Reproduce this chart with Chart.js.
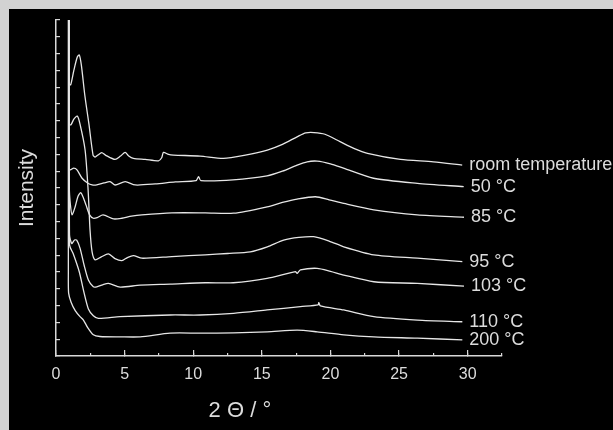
<!DOCTYPE html>
<html>
<head>
<meta charset="utf-8">
<script src="https://cdn.jsdelivr.net/npm/chart.js@4"></script>
<style>
  html, body { margin: 0; padding: 0; background: #d2d2d2; }
  #moldura { position: absolute; left: 9px; top: 9px; width: 604px; height: 421px; background: #000; }
</style>
</head>
<body>
<div id="moldura"><canvas id="meuGrafico" width="604" height="421"></canvas></div>
<script>
// Curvas de difração: pares [2θ, intensidade]
var tempAmbiente = [[0.93,10.5],[0.96,8.1],[1.07,8.07],[1.3,8.5],[1.55,8.9],[1.7,8.96],[1.85,8.65],[2.1,7.76],[2.4,6.9],[2.7,5.98],[2.85,5.92],[3.05,5.98],[3.33,6.05],[3.6,5.98],[4.3,5.85],[4.7,5.95],[5.04,6.06],[5.3,5.95],[5.64,5.88],[6.5,5.85],[7.47,5.81],[7.7,5.9],[7.83,6.06],[8.2,6.0],[8.56,5.98],[10.5,5.95],[12.2,5.88],[13.8,5.98],[15.4,6.13],[16.5,6.3],[17.6,6.53],[18.2,6.64],[18.8,6.65],[19.6,6.6],[20.7,6.38],[21.7,6.18],[22.7,6.03],[25.1,5.85],[27.5,5.78],[29.6,5.68]];
var temp50 = [[0.93,10.5],[0.95,5.6],[1.04,5.54],[1.29,5.59],[1.53,5.54],[1.9,5.29],[2.3,5.15],[2.63,5.09],[2.97,5.09],[3.5,5.15],[3.94,5.19],[4.31,5.09],[5.04,5.19],[5.77,5.09],[7.23,5.12],[8.69,5.18],[10.2,5.22],[10.39,5.34],[10.55,5.22],[12.9,5.24],[15.38,5.36],[16.5,5.5],[17.57,5.68],[18.3,5.78],[19.03,5.8],[20.0,5.72],[20.95,5.59],[23.14,5.29],[26.33,5.14],[29.71,5.04]];
var temp85 = [[0.93,10.5],[0.97,5.0],[1.05,4.5],[1.17,4.2],[1.4,4.45],[1.6,4.75],[1.8,4.86],[2.0,4.7],[2.19,4.49],[2.45,4.2],[2.72,4.1],[3.0,4.12],[3.43,4.2],[4.2,4.08],[4.8,4.1],[5.5,4.16],[6.26,4.2],[8.45,4.26],[10.88,4.26],[12.94,4.25],[15.38,4.44],[16.5,4.57],[17.57,4.67],[18.9,4.74],[19.9,4.65],[20.97,4.54],[23.16,4.35],[26.33,4.2],[29.73,4.13]];
var temp95 = [[0.93,10.5],[0.96,6.9],[1.09,6.88],[1.3,7.05],[1.55,7.14],[1.75,6.9],[2.12,6.13],[2.34,4.94],[2.48,3.75],[2.63,3.1],[2.85,2.86],[3.3,2.95],[3.82,3.04],[4.3,2.9],[4.8,2.84],[5.2,2.93],[5.64,2.99],[6.26,2.91],[8.45,2.96],[10.88,3.01],[12.5,3.05],[14.16,3.1],[15.4,3.25],[16.59,3.45],[17.7,3.53],[18.78,3.55],[19.9,3.42],[20.97,3.25],[23.16,3.01],[26.33,2.91],[29.61,2.81]];
var temp103 = [[0.93,10.5],[0.98,3.6],[1.15,3.35],[1.35,3.45],[1.51,3.45],[1.75,3.21],[2.05,2.7],[2.36,2.26],[2.72,2.06],[2.97,2.06],[3.4,2.12],[3.82,2.16],[4.67,2.05],[6.13,2.11],[8.32,2.14],[10.88,2.18],[12.92,2.18],[15.38,2.31],[17.45,2.51],[17.57,2.46],[17.81,2.56],[19.03,2.61],[20.0,2.52],[20.97,2.41],[23.16,2.21],[26.33,2.16],[29.73,2.08]];
var temp110 = [[0.93,10.5],[0.99,3.3],[1.25,3.05],[1.7,2.5],[2.0,1.96],[2.36,1.4],[2.72,1.2],[3.09,1.12],[4.67,1.17],[8.32,1.22],[10.51,1.22],[12.94,1.27],[15.38,1.37],[17.81,1.47],[19.1,1.52],[19.15,1.59],[19.27,1.49],[20.97,1.37],[23.16,1.17],[26.33,1.07],[29.61,1.02]];
var temp200 = [[0.9,10.5],[0.9,2.5],[0.92,1.87],[1.1,1.6],[1.4,1.35],[1.75,1.17],[2.0,1.07],[2.3,0.85],[2.72,0.63],[3.2,0.58],[4.67,0.57],[6.13,0.57],[8.32,0.68],[10.51,0.68],[12.94,0.69],[15.38,0.72],[17.57,0.77],[19.03,0.72],[20.97,0.63],[23.16,0.57],[26.33,0.53],[29.61,0.48]];

// Nomes das curvas e textos dos eixos
var nomes = ['room temperature', '50 °C', '85 °C', '95 °C', '103 °C', '110 °C', '200 °C'];
var series = [tempAmbiente, temp50, temp85, temp95, temp103, temp110, temp200];
var tituloX = '2 Θ / °';
var tituloY = 'Intensity';

var corLinha = '#e6e6e6';
var corTexto = '#dcdcdc';
Chart.defaults.font.family = '"Liberation Sans", Arial, sans-serif';

// Rótulos no fim de cada curva e título do eixo x
var rotulos = {
  id: 'rotulos',
  afterDatasetsDraw: function (chart) {
    var ctx = chart.ctx;
    ctx.save();
    ctx.fillStyle = corTexto;
    ctx.font = '18px "Liberation Sans", Arial, sans-serif';
    ctx.textBaseline = 'middle';
    chart.data.datasets.forEach(function (ds, i) {
      var pts = chart.getDatasetMeta(i).data;
      var p = pts[pts.length - 1];
      ctx.fillText(ds.label, p.x + 7, p.y);
    });
    ctx.font = '22px "Liberation Sans", Arial, sans-serif';
    ctx.textAlign = 'center';
    ctx.fillText(tituloX, chart.scales.x.getPixelForValue(13.4), chart.height - 19);
    ctx.restore();
  }
};

var ctx = document.getElementById('meuGrafico').getContext('2d');

var meuGrafico = new Chart(ctx, {
  type: 'line',
  data: {
    datasets: series.map(function (s, i) {
      return {
        label: nomes[i],
        data: s.map(function (p) { return { x: p[0], y: p[1] }; }),
        borderColor: corLinha,
        borderWidth: 1.3,
        pointRadius: 0,
        tension: 0.25,
        fill: false
      };
    })
  },
  options: {
    responsive: false,
    animation: false,
    layout: { padding: { top: 11, right: 111, left: 0, bottom: 0 } },
    plugins: { legend: { display: false }, tooltip: { enabled: false } },
    scales: {
      x: {
        type: 'linear',
        position: 'bottom',
        weight: 1,
        min: 0,
        max: 32.5,
        afterFit: function (s) { s.height = 74; },
        border: { display: true, color: '#d8d8d8', width: 1.5 },
        grid: { display: true, drawOnChartArea: false, drawTicks: true, tickLength: -6, color: '#d8d8d8', lineWidth: 1.2 },
        ticks: {
          stepSize: 5,
          includeBounds: false,
          autoSkip: false,
          color: corTexto,
          font: { size: 16 },
          padding: 15,
          maxRotation: 0
        }
      },
      xMenor: {
        type: 'linear',
        position: 'bottom',
        weight: 0,
        min: 0,
        max: 32.5,
        afterFit: function (s) { s.height = 0; },
        border: { display: false },
        grid: { display: true, drawOnChartArea: false, drawTicks: true, tickLength: -3, color: '#d8d8d8', lineWidth: 1.2 },
        ticks: { display: false, stepSize: 2.5 }
      },
      y: {
        type: 'linear',
        position: 'left',
        min: 0,
        max: 10,
        afterFit: function (s) { s.width = 47; },
        border: { display: true, color: '#d8d8d8', width: 1.5 },
        grid: { display: true, drawOnChartArea: false, drawTicks: true, tickLength: -4, color: '#d8d8d8', lineWidth: 1.2 },
        ticks: { display: false, stepSize: 0.5 },
        title: { display: true, text: tituloY, color: corTexto, font: { size: 21 }, padding: { top: 6, bottom: 0 } }
      }
    }
  },
  plugins: [rotulos]
});
</script>
</body>
</html>
